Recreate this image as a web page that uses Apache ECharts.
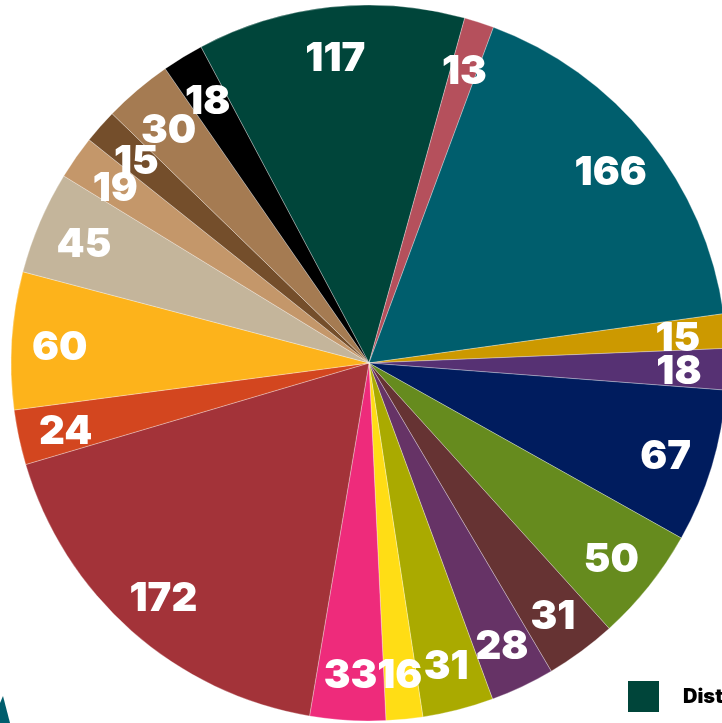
<!DOCTYPE html>
<html>
<head>
<meta charset="utf-8">
<script src="https://cdn.jsdelivr.net/npm/echarts@6/dist/echarts.min.js"></script>
<style>
  html, body { margin: 0; padding: 0; background: #fff; overflow: hidden; }
  /* wider than the window: the legend runs off the right edge as in the source */
  #chart { width: 900px; height: 723px; }
</style>
</head>
<body>
<div id="chart"></div>
<script>
// slices, clockwise from the 117 wedge
var categories = [
  "District 1", "District 2", "District 3", "District 4", "District 5",
  "District 6", "District 7", "District 8", "District 9", "District 10",
  "District 11", "District 12", "District 13", "District 14", "District 15",
  "District 16", "District 17", "District 18", "District 19", "District 20"
];
var values = [117, 13, 166, 15, 18, 67, 50, 31, 28, 31, 16, 33, 172, 24, 60, 45, 19, 15, 30, 18];
var colors = [
  "#00453a", "#b5505c", "#005e6d", "#cc9900", "#563173",
  "#001c5e", "#668b1e", "#663333", "#663366", "#aaaa00",
  "#ffdd15", "#ee2b7b", "#a33339", "#d3461f", "#fdb31b",
  "#c4b59b", "#c4976a", "#744e2b", "#a57b52", "#000000"
];

var chart = echarts.init(document.getElementById("chart"));

var sliceData = categories.map(function (name, i) {
  return { name: name, value: values[i], itemStyle: { color: colors[i] } };
});
// same data, transparent, only used to put labels near the rim
var labelData = categories.map(function (name, i) {
  return { name: name, value: values[i], itemStyle: { color: "rgba(0,0,0,0)" } };
});

chart.setOption({
  animation: false,
  legend: {
    data: [categories[0]],
    left: 628,
    top: 681,
    padding: 0,
    icon: "rect",
    itemWidth: 31,
    itemHeight: 31,
    selectedMode: false,
    itemStyle: { borderWidth: 0 },
    textStyle: {
      fontFamily: "Inter",
      fontWeight: 900,
      fontSize: 20,
      color: "#000",
      padding: [0, 0, 0, 19]
    }
  },
  graphic: [
    {
      // corner of a neighbouring element, cut off by the frame
      type: "polygon",
      shape: { points: [[3, 696], [10, 723], [0, 723], [0, 703]] },
      style: { fill: "#005e6d" },
      silent: true
    }
  ],
  series: [
    {
      type: "pie",
      center: [369, 363],
      radius: [0, 358],
      startAngle: 118,
      clockwise: true,
      avoidLabelOverlap: false,
      label: { show: false },
      labelLine: { show: false },
      emphasis: { disabled: true },
      itemStyle: { borderColor: "rgba(255,255,255,0.6)", borderWidth: 0.5 },
      data: sliceData
    },
    {
      type: "pie",
      center: [369, 363],
      radius: [256, 358],
      startAngle: 118,
      clockwise: true,
      silent: true,
      avoidLabelOverlap: false,
      labelLine: { show: false },
      labelLayout: { hideOverlap: false },
      emphasis: { disabled: true },
      label: {
        show: true,
        position: "inside",
        formatter: "{c}",
        color: "#fff",
        fontFamily: "Inter",
        fontWeight: 900,
        fontSize: 40,
        offset: [0, 4]
      },
      data: labelData
    }
  ]
});
</script>
</body>
</html>
